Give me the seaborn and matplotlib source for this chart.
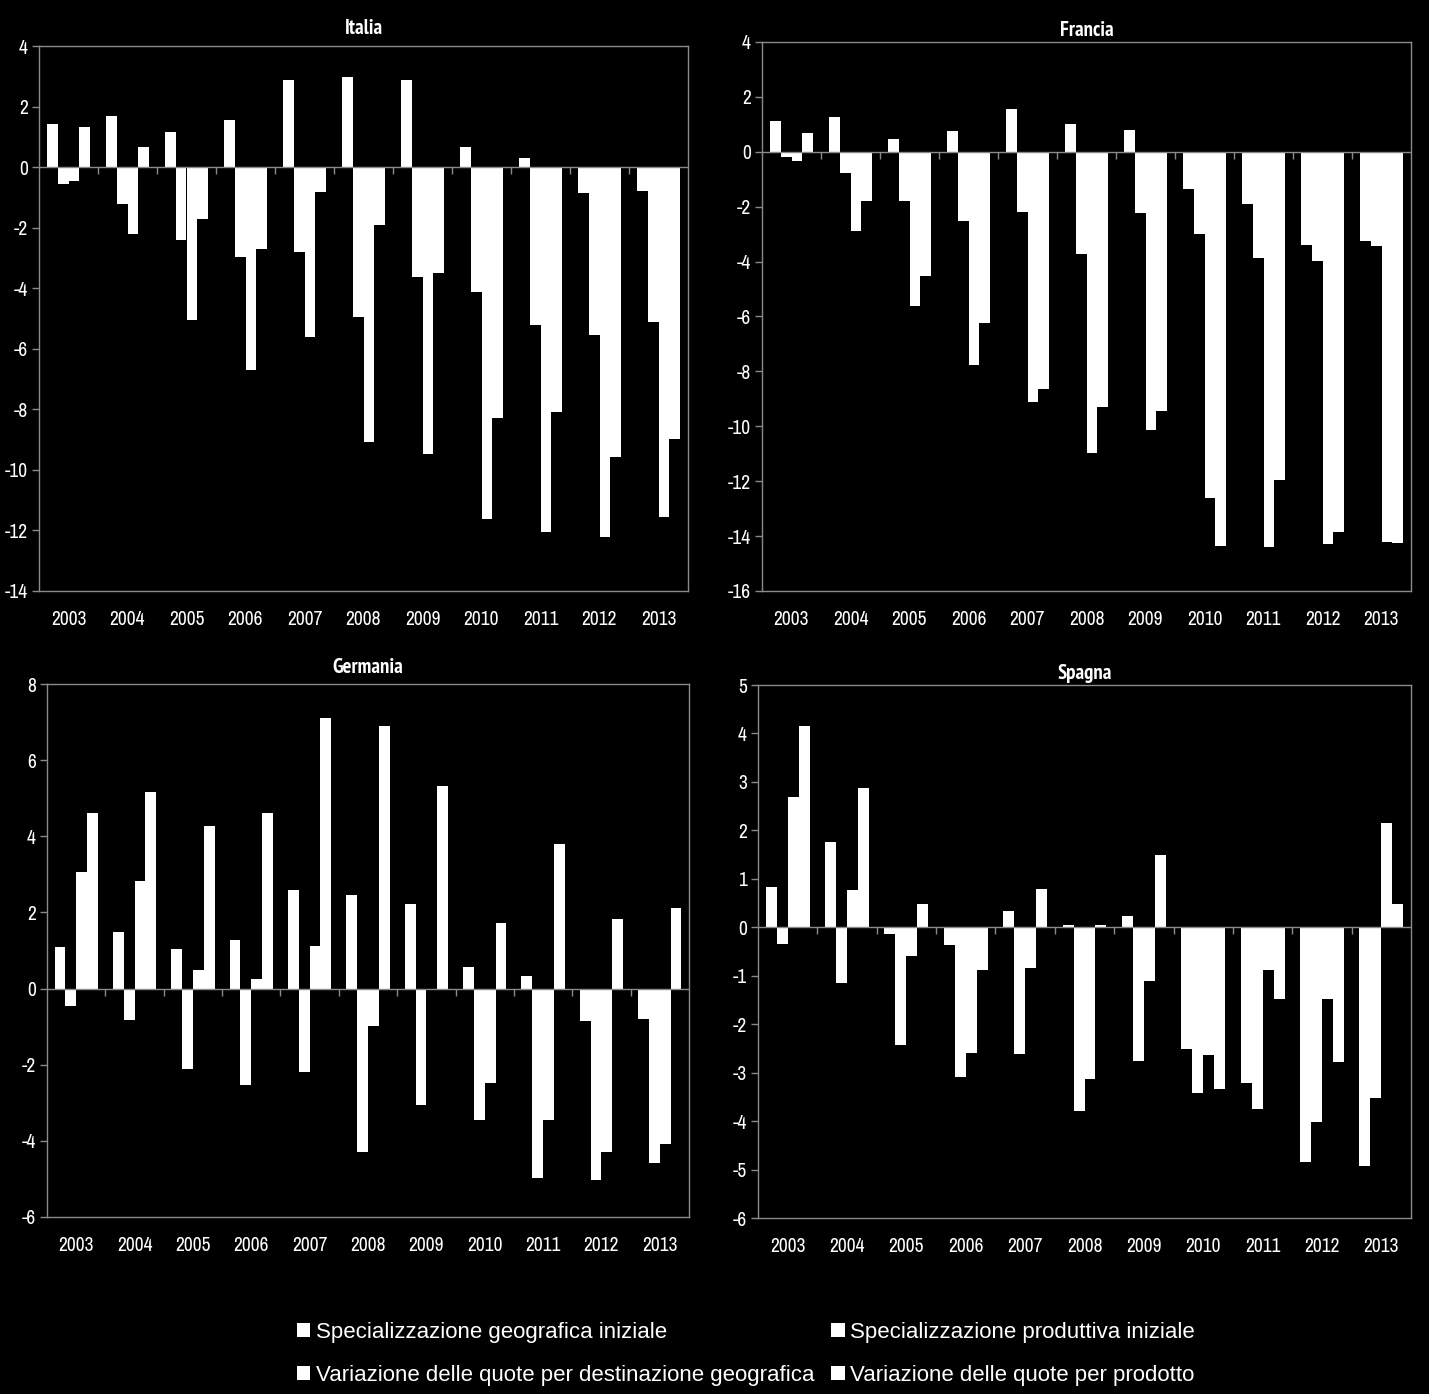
import matplotlib
matplotlib.use("Agg")
import matplotlib.pyplot as plt
from matplotlib import font_manager as fm
import seaborn as sns
import pandas as pd
import numpy as np

years = [str(y) for y in range(2003, 2014)]
series = [
    "Specializzazione geografica iniziale",
    "Specializzazione produttiva iniziale",
    "Variazione delle quote per destinazione geografica",
    "Variazione delle quote per prodotto",
]

# Italia
italia_geo = [1.42, 1.68, 1.16, 1.55, 2.87, 2.97, 2.88, 0.67, 0.31, -0.86, -0.79]
italia_prod = [-0.55, -1.21, -2.40, -2.98, -2.82, -4.95, -3.64, -4.12, -5.20, -5.55, -5.10]
italia_dest = [-0.46, -2.21, -5.06, -6.70, -5.60, -9.07, -9.49, -11.62, -12.06, -12.21, -11.55]
italia_prodotto = [1.31, 0.65, -1.71, -2.71, -0.81, -1.91, -3.49, -8.28, -8.10, -9.58, -8.97]

# Francia
francia_geo = [1.13, 1.25, 0.48, 0.74, 1.56, 1.00, 0.81, -1.35, -1.90, -3.39, -3.24]
francia_prod = [-0.18, -0.76, -1.79, -2.51, -2.18, -3.73, -2.23, -2.98, -3.87, -3.99, -3.42]
francia_dest = [-0.34, -2.89, -5.63, -7.78, -9.11, -10.98, -10.15, -12.63, -14.40, -14.29, -14.20]
francia_prodotto = [0.70, -1.79, -4.54, -6.22, -8.63, -9.29, -9.46, -14.37, -11.95, -13.84, -14.26]

# Germania
germania_geo = [1.08, 1.49, 1.04, 1.28, 2.60, 2.47, 2.21, 0.56, 0.32, -0.84, -0.80]
germania_prod = [-0.46, -0.83, -2.12, -2.52, -2.18, -4.28, -3.06, -3.45, -4.98, -5.04, -4.57]
germania_dest = [3.06, 2.82, 0.49, 0.25, 1.11, -0.98, -0.02, -2.47, -3.44, -4.30, -4.07]
germania_prodotto = [4.60, 5.17, 4.28, 4.60, 7.10, 6.90, 5.32, 1.72, 3.81, 1.84, 2.11]

# Spagna
spagna_geo = [0.83, 1.76, -0.13, -0.37, 0.34, 0.04, 0.24, -2.51, -3.22, -4.85, -4.93]
spagna_prod = [-0.35, -1.15, -2.42, -3.09, -2.61, -3.79, -2.77, -3.41, -3.75, -4.02, -3.52]
spagna_dest = [2.69, 0.76, -0.60, -2.60, -0.84, -3.13, -1.10, -2.64, -0.89, -1.47, 2.15]
spagna_prodotto = [4.15, 2.87, 0.49, -0.88, 0.79, 0.04, 1.49, -3.34, -1.49, -2.78, 0.48]

panels = [
    ("Italia", [italia_geo, italia_prod, italia_dest, italia_prodotto], (-14, 4), 2),
    ("Francia", [francia_geo, francia_prod, francia_dest, francia_prodotto], (-16, 4), 2),
    ("Germania", [germania_geo, germania_prod, germania_dest, germania_prodotto], (-6, 8), 2),
    ("Spagna", [spagna_geo, spagna_prod, spagna_dest, spagna_prodotto], (-6, 5), 1),
]

sns.set_theme(style="dark")
fonts = fm.fontManager.ttflist
installed = {f.name for f in fonts}
candidates = ["Liberation Sans Narrow", "Arial Narrow", "Archivo Narrow", "PT Sans Narrow",
              "Roboto Condensed", "Pragati Narrow", "Liberation Sans"]
narrow = next((n for n in candidates if n in installed), "DejaVu Sans")


def has_bold(name):
    for f in fonts:
        if f.name == name:
            w = f.weight
            if (isinstance(w, (int, float)) and w >= 600) or str(w).lower() in ("bold", "semibold", "heavy", "black"):
                return True
    return False


narrow_bold = next((n for n in candidates if n in installed and has_bold(n)), "Liberation Sans")
plt.rcParams["font.family"] = [narrow, "DejaVu Sans"]
plt.rcParams["axes.unicode_minus"] = False

W, H = 1429, 1394
fig = plt.figure(figsize=(W / 100, H / 100), dpi=100, facecolor="black")

# axes rectangles in pixels: left, top, right, bottom
rects = [
    (39, 46, 688, 591),
    (762, 42, 1411, 591),
    (47, 684, 689, 1217),
    (758, 685, 1411, 1218),
]
title_pads = [9, 4, 8, 4]
grey = "#8a8a8a"

handles = None
for (name, vals, ylim, step), (l, t, r, b), tp in zip(panels, rects, title_pads):
    ax = fig.add_axes([l / W, 1 - b / H, (r - l) / W, (b - t) / H])
    ax.set_facecolor("black")
    rows = []
    for s, v in zip(series, vals):
        for yr, val in zip(years, v):
            rows.append({"anno": yr, "serie": s, "valore": val})
    df = pd.DataFrame(rows)
    sns.barplot(data=df, x="anno", y="valore", hue="serie", hue_order=series,
                order=years, palette=["white"] * 4, width=0.74, dodge=True,
                saturation=1, linewidth=0, edgecolor="white", ax=ax, legend=True, errorbar=None)
    if handles is None:
        handles, labels = ax.get_legend_handles_labels()
    ax.get_legend().remove()
    ax.set_xlim(-0.5, len(years) - 0.5)
    ax.set_ylim(*ylim)
    ax.set_yticks(np.arange(ylim[0], ylim[1] + 0.001, step))
    ax.set_xlabel("")
    ax.set_ylabel("")
    ax.grid(False)
    for sp in ax.spines.values():
        sp.set_visible(True)
        sp.set_color(grey)
        sp.set_linewidth(1.0)
    ax.tick_params(axis="y", colors=grey, labelcolor="white", labelsize=14,
                   length=5, width=1, direction="out", left=True, pad=3)
    ax.tick_params(axis="x", colors=grey, labelcolor="white", labelsize=14,
                   length=0, pad=14)
    ax.axhline(0, color=grey, lw=1.0, zorder=3)
    sec = ax.secondary_xaxis(0, transform=ax.transData)
    sec.set_xticks(np.arange(0.5, len(years) - 0.5, 1.0))
    sec.tick_params(axis="x", colors=grey, labelbottom=False, length=5, width=1, direction="out")
    sec.spines["bottom"].set_visible(False)
    ax.set_title(name, color="white", fontsize=15, fontweight="bold", pad=tp,
                 family=[narrow_bold, "DejaVu Sans"])

order = [0, 2, 1, 3]
leg = fig.legend([handles[i] for i in order], [series[i] for i in order], ncol=2,
                 loc="center", bbox_to_anchor=(746 / W, 1 - 1354 / H),
                 frameon=False, labelcolor="white",
                 prop={"family": ["Liberation Sans", "DejaVu Sans"], "size": 16},
                 handlelength=0.6, handleheight=0.6, handletextpad=0.25,
                 columnspacing=0.75, labelspacing=1.0)

fig.savefig("out.png", dpi=100, facecolor="black")
